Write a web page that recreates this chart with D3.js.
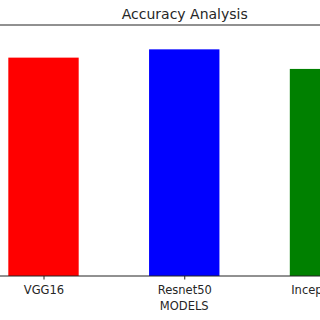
<!DOCTYPE html>
<html>
<head>
<meta charset="utf-8">
<script src="https://cdn.jsdelivr.net/npm/d3@7"></script>
<style>
	body { margin: 0; background: #fff; }
	svg { display: block; font-family: "DejaVu Sans", sans-serif; }
	.tick-label { font-size: 11.5px; fill: #262626; }
	.title { font-size: 14px; fill: #262626; }
</style>
</head>
<body>
<svg id="chart" width="320" height="320"></svg>
<script>
	// data
	var models = ["VGG16", "Resnet50", "InceptionV3"];
	var accuracy = [0.87, 0.903, 0.825];
	var colors = ["#ff0000", "#0000ff", "#008000"];

	var svg = d3.select("#chart");
	var axTop = 25, axBottom = 276;

	var x = d3.scalePoint().domain(models).range([43.5, 325]);
	var barW = x.step() * 0.5;
	var y = d3.scaleLinear().domain([0, 1]).range([axBottom, axTop]);

	svg.selectAll("rect.bar")
		.data(models).enter().append("rect")
		.attr("class", "bar")
		.attr("x", function (d) { return x(d) - barW / 2; })
		.attr("y", function (d, i) { return y(accuracy[i]); })
		.attr("width", barW)
		.attr("height", function (d, i) { return y(0) - y(accuracy[i]); })
		.style("fill", function (d, i) { return colors[i]; });

	// spines
	svg.append("line").attr("x1", 0).attr("x2", 320).attr("y1", axTop).attr("y2", axTop)
		.attr("stroke", "#222").attr("stroke-width", 1);
	svg.append("line").attr("x1", 0).attr("x2", 320).attr("y1", axBottom).attr("y2", axBottom)
		.attr("stroke", "#222").attr("stroke-width", 1);

	// x axis
	var xAxis = d3.axisBottom(x).tickSize(3.5).tickPadding(0);
	var g = svg.append("g").attr("transform", "translate(0," + axBottom + ")").call(xAxis);
	g.select(".domain").remove();
	g.selectAll("line").attr("stroke", "#222");
	g.selectAll("text").attr("class", "tick-label").attr("fill", "#262626")
		.attr("dy", null).attr("y", 18)
		.style("font-size", "11.5px").style("font-family", "DejaVu Sans");

	svg.append("text").attr("class", "tick-label")
		.attr("x", x("Resnet50")).attr("y", 309.5)
		.attr("text-anchor", "middle").text("MODELS");

	svg.append("text").attr("class", "title")
		.attr("x", x("Resnet50") + 0.5).attr("y", 19)
		.attr("text-anchor", "middle").text("Accuracy Analysis");
</script>
</body>
</html>
